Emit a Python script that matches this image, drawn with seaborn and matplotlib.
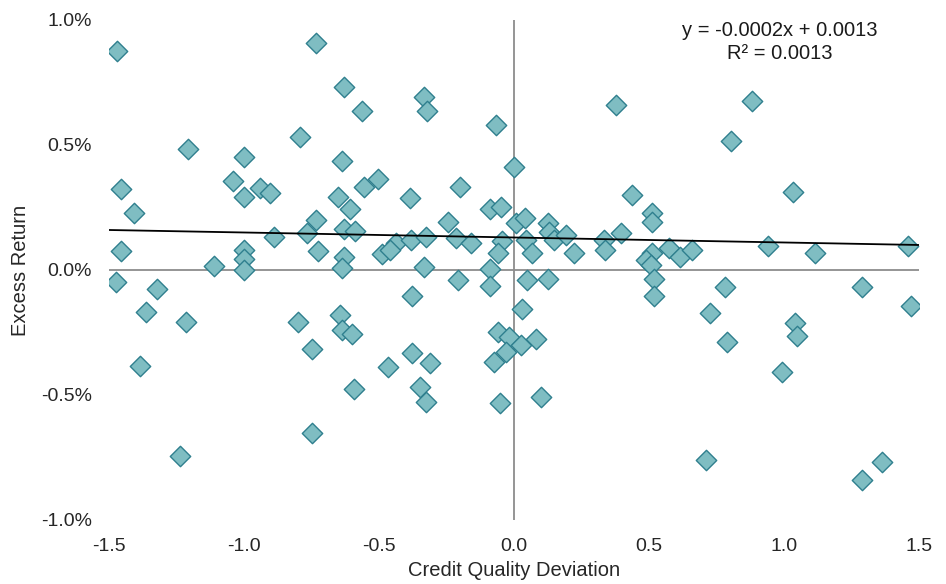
import numpy as np
import pandas as pd
import matplotlib
matplotlib.use("Agg")
import matplotlib.pyplot as plt
import seaborn as sns

# Credit quality deviation (x) and excess return (y, in %)
credit_dev = [
    -1.470, -1.207, -1.000, -1.452, -1.041, -1.000, -0.941, -0.904, -1.407, -0.889,
    -1.452, -1.000, -1.000, -1.111, -1.000, -1.474, -1.322, -1.363, -1.215, -1.385,
    -1.237, -0.800, -0.793, -0.733, -0.630, -0.563, -0.333, -0.322, -0.067, -0.637,
    -0.556, -0.504, -0.200, -0.652, -0.607, -0.385, -0.089, -0.048, -0.733, -0.767,
    -0.630, -0.589, -0.244, -0.726, -0.630, -0.637, -0.489, -0.437, -0.459, -0.381,
    -0.326, -0.333, -0.215, -0.159, -0.044, -0.059, -0.089, -0.207, -0.089, -0.378,
    -0.644, -0.637, -0.600, -0.748, -0.748, -0.467, -0.378, -0.311, -0.348, -0.326,
    -0.593, -0.052, -0.059, -0.019, -0.030, -0.074,
    0.000, 0.007, 0.041, 0.126, 0.130, 0.148, 0.193, 0.044, 0.067, 0.222,
    0.048, 0.126, 0.030, 0.026, 0.081, 0.100, 0.378, 0.437, 0.511, 0.511,
    0.333, 0.337, 0.396, 0.511, 0.489, 0.507, 0.574, 0.615, 0.659, 0.519,
    0.519, 0.726, 0.711, 0.781, 0.789, 1.289, 1.470, 1.041, 1.048, 0.993,
    1.363, 1.289, 0.881, 0.804, 1.033, 0.941, 1.115, 1.459,
]
excess_return_pct = [
    0.874, 0.482, 0.450, 0.322, 0.354, 0.290, 0.326, 0.306, 0.226, 0.130,
    0.074, 0.078, 0.042, 0.014, -0.002, -0.050, -0.078, -0.170, -0.210, -0.386,
    -0.746, -0.210, 0.530, 0.906, 0.730, 0.634, 0.690, 0.634, 0.578, 0.434,
    0.330, 0.362, 0.330, 0.290, 0.242, 0.286, 0.242, 0.250, 0.198, 0.146,
    0.162, 0.154, 0.190, 0.074, 0.050, 0.006, 0.062, 0.106, 0.078, 0.118,
    0.130, 0.010, 0.126, 0.106, 0.114, 0.066, 0.002, -0.042, -0.066, -0.106,
    -0.182, -0.242, -0.258, -0.318, -0.654, -0.390, -0.334, -0.374, -0.470, -0.530,
    -0.478, -0.534, -0.250, -0.270, -0.330, -0.370,
    0.410, 0.186, 0.206, 0.186, 0.150, 0.118, 0.138, 0.118, 0.066, 0.066,
    -0.042, -0.038, -0.158, -0.302, -0.278, -0.510, 0.658, 0.298, 0.226, 0.190,
    0.118, 0.078, 0.146, 0.066, 0.038, 0.018, 0.086, 0.050, 0.078, -0.038,
    -0.106, -0.174, -0.762, -0.070, -0.290, -0.070, -0.146, -0.214, -0.266, -0.410,
    -0.770, -0.842, 0.674, 0.514, 0.310, 0.094, 0.066, 0.094,
]

# Trend line parameters (from the chart annotation)
trend_slope = -0.0002
trend_intercept = 0.0013
r_squared = 0.0013

x_ticks = [-1.5, -1.0, -0.5, 0.0, 0.5, 1.0, 1.5]
y_ticks = [-0.01, -0.005, 0.0, 0.005, 0.01]

df = pd.DataFrame({
    "Credit Quality Deviation": credit_dev,
    "Excess Return": np.array(excess_return_pct) / 100.0,
})

sns.set_theme(style="white")
plt.rcParams["font.family"] = ["Liberation Sans", "DejaVu Sans"]

fig = plt.figure(figsize=(9.46, 5.84), dpi=100)
ax = fig.add_axes([0.1147, 0.1096, 0.8568, 0.8562])

# zero reference lines
ax.axhline(0, color="#8c8c8c", lw=1.3, zorder=1)
ax.axvline(0, color="#8c8c8c", lw=1.3, zorder=1)

sns.scatterplot(
    data=df, x="Credit Quality Deviation", y="Excess Return", ax=ax,
    marker="D", s=108, color="#7fbdc2", edgecolor="#2f7f8e", linewidth=1.0,
    zorder=3, legend=False,
)

trend_x = np.array([x_ticks[0], x_ticks[-1]])
trend = pd.DataFrame({"x": trend_x, "y": trend_slope * trend_x + trend_intercept})
sns.lineplot(data=trend, x="x", y="y", ax=ax, color="black", lw=1.3, zorder=4)

ax.set_xlim(-1.5, 1.5)
ax.set_ylim(-0.01, 0.01)
ax.set_xticks(x_ticks)
ax.set_xticklabels([f"{v:.1f}" for v in x_ticks])
ax.set_yticks(y_ticks)
ax.set_yticklabels([f"{v*100:.1f}%" for v in y_ticks])
ax.tick_params(axis="both", length=0, labelsize=14, colors="#262626")
ax.tick_params(axis="x", pad=13)
ax.tick_params(axis="y", pad=12)
for sp in ax.spines.values():
    sp.set_visible(False)

ax.set_xlabel("Credit Quality Deviation", fontsize=14.5, color="#262626", labelpad=4)
ax.set_ylabel("Excess Return", fontsize=14.5, color="#262626", labelpad=8)

ax.text(0.985, 0.00912,
        f"y = {trend_slope:.4f}x + {trend_intercept:.4f}\nR² = {r_squared:.4f}",
        ha="center", va="center", fontsize=14.5, color="#1a1a1a", linespacing=1.3)

fig.savefig("out.png", dpi=100)
